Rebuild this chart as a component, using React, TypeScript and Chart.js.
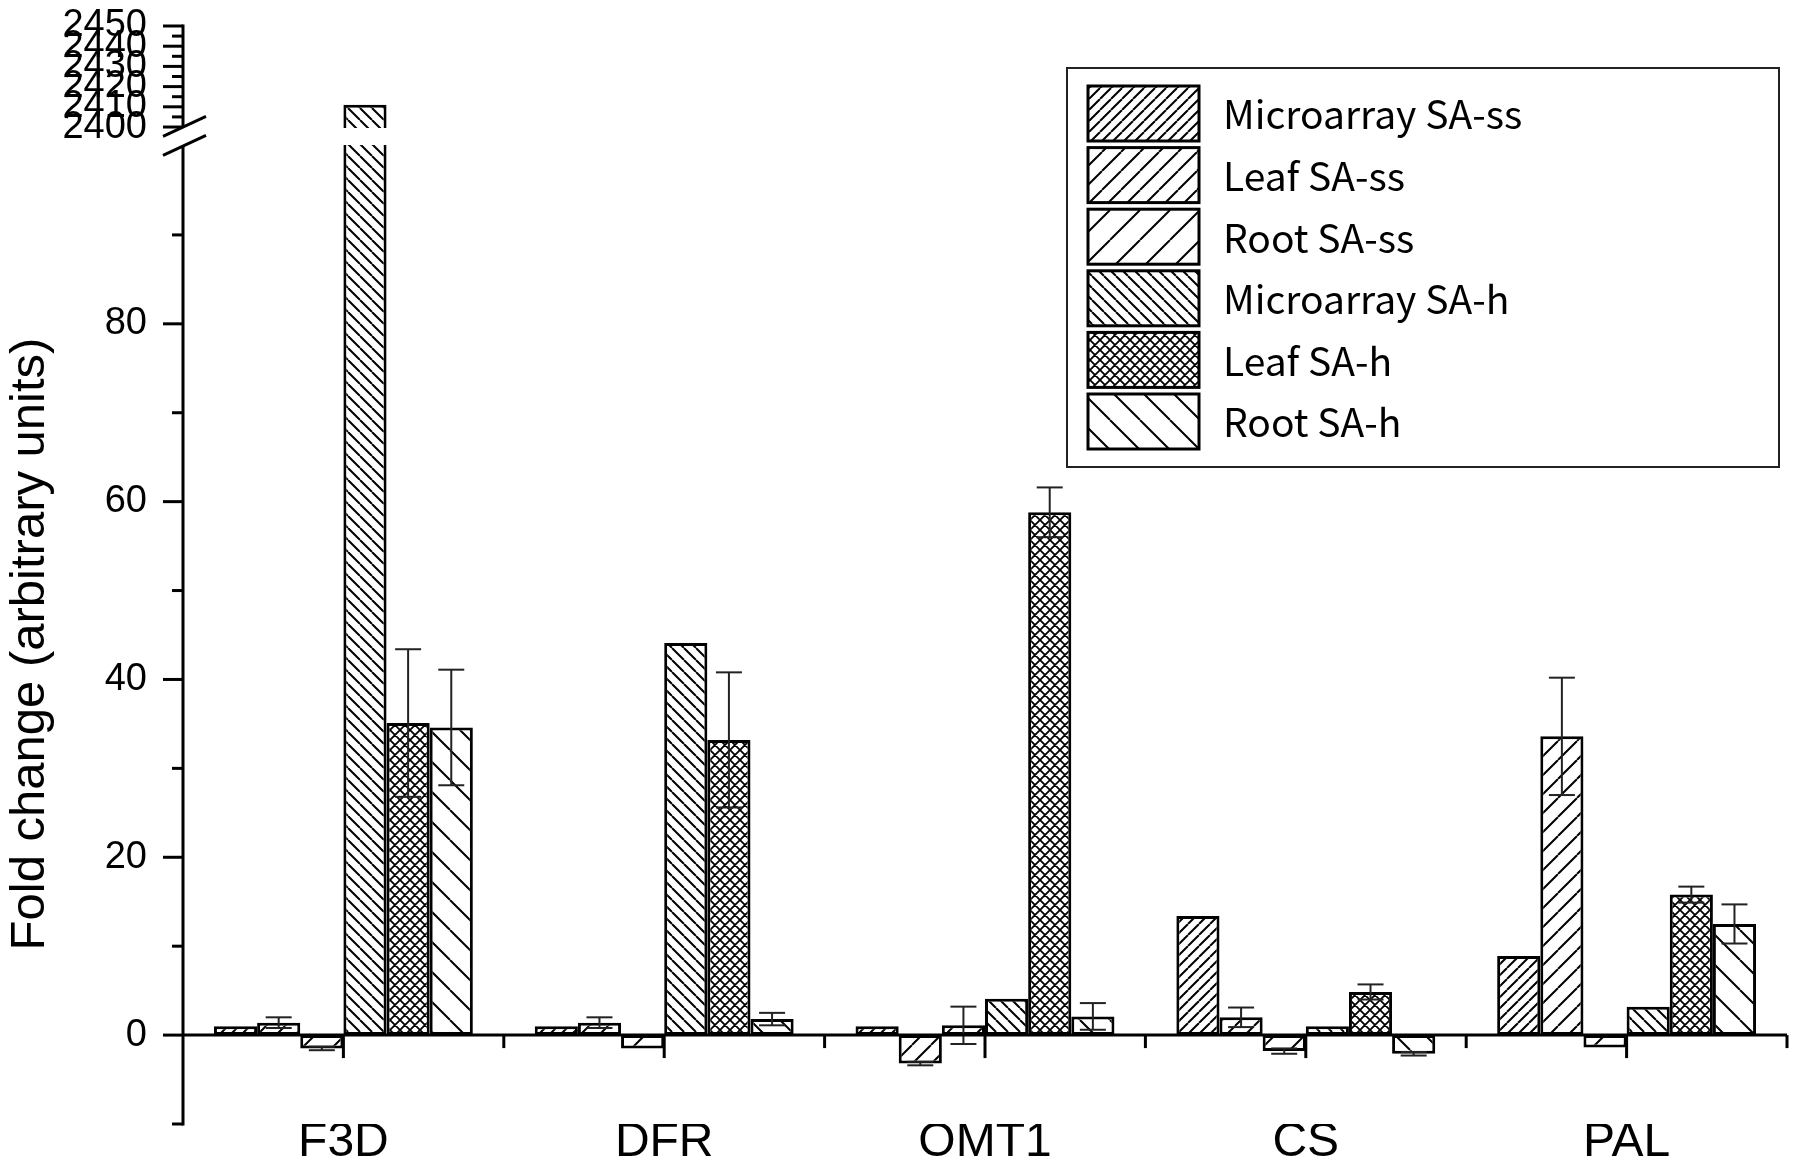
import React, { useEffect, useRef } from 'react';
import { Chart, registerables, LinearScale } from 'chart.js';

Chart.register(...registerables);

// ---------- data ----------
const CATEGORIES = ['F3D', 'DFR', 'OMT1', 'CS', 'PAL'];
const SERIES_LABELS = ['Microarray SA-ss', 'Leaf SA-ss', 'Root SA-ss', 'Microarray SA-h', 'Leaf SA-h', 'Root SA-h'];

const MICROARRAY_SA_SS = [1, 1, 1, 13.4, 8.9];
const LEAF_SA_SS = [1.4, 1.4, -3.2, 2.0, 33.6];
const LEAF_SA_SS_ERR = [0.6, 0.6, 0.2, 1.1, 6.6];
const ROOT_SA_SS = [-1.5, -1.5, 1.1, -1.8, -1.4];
const ROOT_SA_SS_ERR = [0.2, null, 2.1, 0.3, null];
const MICROARRAY_SA_H = [2411, 44.1, 4.1, 1, 3.2];
const LEAF_SA_H = [35.1, 33.2, 58.8, 4.85, 15.8];
const LEAF_SA_H_ERR = [8.3, 7.6, 2.8, 0.85, 0.9];
const ROOT_SA_H = [34.6, 1.8, 2.1, -2.1, 12.5];
const ROOT_SA_H_ERR = [6.5, 0.7, 1.5, 0.2, 2.2];

// broken y axis
const Y_LOWER_MIN = -10;
const Y_LOWER_MAX = 100;
const Y_UPPER_MIN = 2400;
const Y_UPPER_MAX = 2450;
const Y_MAJOR_TICKS = [0, 20, 40, 60, 80, 2400, 2410, 2420, 2430, 2440, 2450];
const Y_MINOR_TICKS = [-10, 10, 30, 50, 70, 90, 2405, 2415, 2425, 2435, 2445];

const Y_TITLE = 'Fold change (arbitrary units)';

// ---------- layout constants ----------
const W = 1800;
const H = 1173;
const PLOT_TOP = 26;
const PLOT_BOTTOM = 1124;
const LOWER_FRAC = 0.8907;
const GAP_FRAC = 0.0173;
const UPPER_FRAC = 1 - LOWER_FRAC - GAP_FRAC;
const FONT = '"Liberation Sans", Arial, Helvetica, sans-serif';
const LEGEND_FONT = '"Noto Sans CJK SC", "Noto Sans", sans-serif';

class BrokenLinearScale extends LinearScale {
  static id = 'brokenLinear';
  static defaults = LinearScale.defaults;

  buildTicks() {
    this.start = this.min;
    this.end = this.max;
    return Y_MAJOR_TICKS.map((v) => ({ value: v }));
  }

  fracFor(v: number) {
    if (v <= Y_LOWER_MAX) return ((v - Y_LOWER_MIN) / (Y_LOWER_MAX - Y_LOWER_MIN)) * LOWER_FRAC;
    if (v >= Y_UPPER_MIN) return LOWER_FRAC + GAP_FRAC + ((v - Y_UPPER_MIN) / (Y_UPPER_MAX - Y_UPPER_MIN)) * UPPER_FRAC;
    return LOWER_FRAC + ((v - Y_LOWER_MAX) / (Y_UPPER_MIN - Y_LOWER_MAX)) * GAP_FRAC;
  }

  getPixelForValue(v: number) {
    return this.bottom - this.fracFor(v) * (this.bottom - this.top);
  }

  getValueForPixel(px: number) {
    const f = (this.bottom - px) / (this.bottom - this.top);
    if (f <= LOWER_FRAC) return Y_LOWER_MIN + (f / LOWER_FRAC) * (Y_LOWER_MAX - Y_LOWER_MIN);
    if (f >= LOWER_FRAC + GAP_FRAC)
      return Y_UPPER_MIN + ((f - LOWER_FRAC - GAP_FRAC) / UPPER_FRAC) * (Y_UPPER_MAX - Y_UPPER_MIN);
    return Y_LOWER_MAX + ((f - LOWER_FRAC) / GAP_FRAC) * (Y_UPPER_MIN - Y_LOWER_MAX);
  }
}
Chart.register(BrokenLinearScale);

function makeHatch(period: number, dir: 'f' | 'b' | 'x', lw = 2) {
  const c = document.createElement('canvas');
  c.width = period;
  c.height = period;
  const g = c.getContext('2d')!;
  g.fillStyle = '#ffffff';
  g.fillRect(0, 0, period, period);
  g.strokeStyle = '#000000';
  g.lineWidth = lw;
  g.beginPath();
  const offs = [-period, 0, period];
  if (dir === 'f' || dir === 'x') {
    offs.forEach((o) => {
      g.moveTo(o, period);
      g.lineTo(o + period, 0);
    });
  }
  if (dir === 'b' || dir === 'x') {
    offs.forEach((o) => {
      g.moveTo(o, 0);
      g.lineTo(o + period, period);
    });
  }
  g.stroke();
  return g.createPattern(c, 'repeat')!;
}

const overlayPlugin = {
  id: 'overlay',
  afterDraw(chart: any) {
    const { ctx, chartArea } = chart;
    const x = chart.scales.x;
    const y = chart.scales.y;
    const line = (x1: number, y1: number, x2: number, y2: number) => {
      ctx.beginPath();
      ctx.moveTo(x1, y1);
      ctx.lineTo(x2, y2);
      ctx.stroke();
    };
    ctx.save();
    const gapTop = y.getPixelForValue(Y_UPPER_MIN);
    const gapBottom = y.getPixelForValue(Y_LOWER_MAX);

    // break gap through bars crossing it
    chart.data.datasets.forEach((ds: any, di: number) => {
      const meta = chart.getDatasetMeta(di);
      meta.data.forEach((bar: any, i: number) => {
        if (ds.data[i] > Y_LOWER_MAX) {
          ctx.fillStyle = '#ffffff';
          ctx.fillRect(bar.x - bar.width / 2 - 3, gapTop + 1, bar.width + 6, gapBottom - gapTop - 2);
        }
      });
    });

    // error bars
    ctx.strokeStyle = '#222222';
    ctx.lineWidth = 2;
    chart.data.datasets.forEach((ds: any, di: number) => {
      if (!ds.errors) return;
      const meta = chart.getDatasetMeta(di);
      meta.data.forEach((bar: any, i: number) => {
        const e = ds.errors[i];
        if (e == null) return;
        const v = ds.data[i];
        const pt = y.getPixelForValue(v + e);
        const pb = y.getPixelForValue(v - e);
        const cw = 13;
        line(bar.x, pt, bar.x, pb);
        line(bar.x - cw, pt, bar.x + cw, pt);
        line(bar.x - cw, pb, bar.x + cw, pb);
      });
    });

    // axes
    ctx.strokeStyle = '#000000';
    ctx.lineWidth = 3;
    const ax = chartArea.left;
    line(ax, y.getPixelForValue(Y_LOWER_MIN) + 1.5, ax, gapBottom);
    line(ax, gapTop, ax, y.getPixelForValue(Y_UPPER_MAX) - 1.5);
    Y_MAJOR_TICKS.forEach((v) => {
      const p = y.getPixelForValue(v);
      line(ax - 20, p, ax, p);
    });
    Y_MINOR_TICKS.forEach((v) => {
      const p = y.getPixelForValue(v);
      line(ax - 11, p, ax, p);
    });
    const y0 = y.getPixelForValue(0);
    line(ax, y0, chartArea.right, y0);
    const n = CATEGORIES.length;
    for (let i = 0; i < n; i++) {
      const cx = x.getPixelForValue(i);
      line(cx, y0, cx, y0 + 23);
      const bx = i < n - 1 ? (x.getPixelForValue(i) + x.getPixelForValue(i + 1)) / 2 : chartArea.right;
      line(bx, y0, bx, y0 + 13);
    }
    // break marks
    [gapTop, gapBottom].forEach((p) => {
      line(ax - 20, p + 9.3, ax + 23, p - 10.7);
    });

    // legend
    const LX = 1067, LY = 68, LW = 712, LH = 399;
    ctx.lineWidth = 2;
    ctx.strokeStyle = '#222222';
    ctx.strokeRect(LX, LY, LW, LH);
    chart.data.datasets.forEach((ds: any, di: number) => {
      const sx = 1088;
      const sy = 86 + di * 61.6;
      const sw = 111;
      const sh = 55;
      ctx.fillStyle = ds.backgroundColor;
      ctx.fillRect(sx, sy, sw, sh);
      ctx.lineWidth = 3;
      ctx.strokeStyle = '#000000';
      ctx.strokeRect(sx, sy, sw, sh);
      ctx.fillStyle = '#000000';
      ctx.font = `39px ${LEGEND_FONT}`;
      ctx.textAlign = 'left';
      ctx.textBaseline = 'middle';
      ctx.fillText(ds.label, 1223, sy + sh / 2 + 1);
    });

    // y title
    ctx.translate(30, 644);
    ctx.rotate(-Math.PI / 2);
    ctx.fillStyle = '#000000';
    ctx.font = `49px ${FONT}`;
    ctx.textAlign = 'center';
    ctx.textBaseline = 'middle';
    ctx.fillText(Y_TITLE, 0, 0);
    ctx.restore();
  },
};

export default function App() {
  const ref = useRef<HTMLCanvasElement | null>(null);
  useEffect(() => {
    document.body.style.margin = '0';
    const canvas = ref.current!;
    const patterns = [
      makeHatch(11, 'f'),
      makeHatch(19, 'f'),
      makeHatch(30, 'f'),
      makeHatch(12, 'b'),
      makeHatch(10, 'x', 1.8),
      makeHatch(30, 'b'),
    ];
    const values = [MICROARRAY_SA_SS, LEAF_SA_SS, ROOT_SA_SS, MICROARRAY_SA_H, LEAF_SA_H, ROOT_SA_H];
    const errors = [null, LEAF_SA_SS_ERR, ROOT_SA_SS_ERR, null, LEAF_SA_H_ERR, ROOT_SA_H_ERR];
    const chart = new Chart(canvas, {
      type: 'bar',
      data: {
        labels: CATEGORIES,
        datasets: SERIES_LABELS.map((label, i) => ({
          label,
          data: values[i],
          errors: errors[i],
          backgroundColor: patterns[i],
          borderColor: '#000000',
          borderWidth: 3,
          borderSkipped: false,
          categoryPercentage: 0.807,
          barPercentage: 1,
        })) as any,
      },
      options: {
        responsive: false,
        animation: false,
        devicePixelRatio: 1,
        events: [],
        layout: { padding: { left: 0, top: PLOT_TOP, right: 13, bottom: 0 } },
        plugins: { legend: { display: false }, tooltip: { enabled: false }, title: { display: false } },
        scales: {
          x: {
            type: 'category',
            grid: { display: false, drawTicks: false },
            border: { display: false },
            ticks: { color: '#000000', font: { family: FONT, size: 48 }, padding: -10, maxRotation: 0, autoSkip: false },
            afterFit: (s: any) => {
              s.height = H - PLOT_BOTTOM;
              s.paddingLeft = 0;
              s.paddingRight = 0;
              s.paddingTop = 0;
              s.paddingBottom = 0;
            },
          },
          y: {
            type: 'brokenLinear' as any,
            min: Y_LOWER_MIN,
            max: Y_UPPER_MAX,
            grid: { display: false, drawTicks: false },
            border: { display: false },
            ticks: {
              color: '#000000',
              font: { family: FONT, size: 38 },
              padding: 36,
              autoSkip: false,
              callback: (v: any) => String(v),
            },
            afterFit: (s: any) => {
              s.width = 183;
              s.paddingTop = 0;
              s.paddingBottom = 0;
              s.paddingLeft = 0;
              s.paddingRight = 0;
            },
          },
        },
      } as any,
      plugins: [overlayPlugin],
    });
    return () => chart.destroy();
  }, []);
  return (
    <div style={{ position: 'fixed', left: 0, top: 0, width: W, height: H, background: '#fff' }}>
      <canvas ref={ref} width={W} height={H} style={{ width: W, height: H, display: 'block' }} />
    </div>
  );
}
